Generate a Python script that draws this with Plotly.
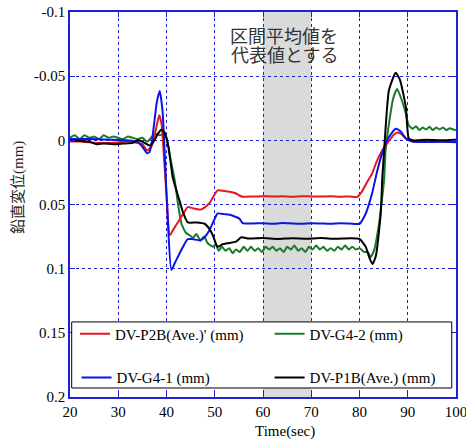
import plotly.graph_objects as go

# ---------------- data ----------------
red_t = [20, 22, 24, 26, 28, 30, 32, 34, 35, 36, 37, 38, 38.5, 39, 39.5, 40, 40.7, 41.5, 42.5, 43.5, 44.4,
         45.5, 47, 48, 48.9, 50, 50.6, 52, 53.1, 54.2, 55.1, 55.8, 58, 60, 62, 64, 66, 68, 70, 72, 74, 76,
         78, 79.5, 80.5, 81.5, 82.6, 83.5, 84.7, 86, 87, 87.8, 88.6, 89.6, 91, 93, 95, 97, 100]
red_y = [0.001, 0.001, 0.0015, 0.002, 0.002, 0.0015, 0.001, 0.002, 0.003, 0.008, 0.004, -0.012, -0.0195,
         -0.012, 0.015, 0.042, 0.074, 0.069, 0.063, 0.057, 0.052, 0.053, 0.054, 0.052, 0.049, 0.042, 0.039,
         0.0395, 0.040, 0.041, 0.043, 0.044, 0.0437, 0.0435, 0.0438, 0.0436, 0.044, 0.0435, 0.0437, 0.0438,
         0.0436, 0.044, 0.0437, 0.0442, 0.040, 0.033, 0.026, 0.017, 0.008, 0.001, -0.004, -0.006, -0.005,
         -0.0015, 0.001, 0.001, 0.0005, 0.001, 0.001]

green_t = [20, 21, 22, 23, 24, 25, 26, 27, 28, 29, 30, 31, 32, 33, 34, 35, 36, 37, 37.8, 38.6, 39.4, 40,
           40.7, 41.7, 42.4, 43.1, 44, 44.8, 45.5, 46.2, 47, 47.8, 48.5, 49.6, 50.2, 50.8, 51.5, 52.2, 53,
           53.7, 54.4, 55.2, 56, 56.8, 57.5, 58.3, 59, 59.8, 60.5, 61.3, 62, 62.8, 63.5, 64.3, 65, 65.8,
           66.5, 67.3, 68, 68.8, 69.5, 70.3, 71, 71.8, 72.5, 73.3, 74, 74.8, 75.5, 76.3, 77, 77.8, 78.5,
           79.3, 80, 81, 81.7, 82.3, 83, 84.05, 84.6, 85.1, 85.4, 86.3, 87, 87.8, 88.6, 89.6, 90.2, 91,
           91.7, 92.4, 93.1, 93.8, 94.5, 95.2, 95.9, 96.6, 97.3, 98, 98.7, 99.4, 100]
green_y = [-0.002, -0.004, -0.001, -0.004, -0.002, -0.003, -0.001, -0.004, -0.002, -0.003, -0.002,
           -0.001, -0.003, -0.002, -0.001, -0.002, 0.001, -0.003, -0.005, -0.004, -0.005, -0.002,
           0.012, 0.031, 0.050, 0.065, 0.072, 0.074, 0.076, 0.073, 0.078, 0.075, 0.080, 0.083, 0.081,
           0.086, 0.083, 0.086, 0.084, 0.088, 0.085, 0.087, 0.083, 0.086, 0.083, 0.086, 0.084, 0.087,
           0.083, 0.085, 0.083, 0.086, 0.084, 0.087, 0.083, 0.085, 0.082, 0.086, 0.084, 0.087, 0.083,
           0.085, 0.082, 0.085, 0.083, 0.086, 0.084, 0.086, 0.083, 0.085, 0.082, 0.085, 0.083, 0.085,
           0.084, 0.087, 0.087, 0.091, 0.086, 0.065, 0.048, 0.031, 0.008, -0.018, -0.033, -0.040,
           -0.033, -0.021, -0.0117, -0.009, -0.011, -0.008, -0.010, -0.0085, -0.0105, -0.008, -0.010,
           -0.0085, -0.010, -0.008, -0.0095, -0.0085, -0.008]

blue_t = [20, 24, 28, 32, 34, 35, 36, 36.5, 37, 37.5, 38, 38.6, 39.2, 39.8, 40.3, 41.0, 41.8, 43, 44.4,
          45.5, 47, 48, 48.9, 50, 50.6, 52, 53.1, 55.1, 55.8, 58, 60, 62, 64, 66, 68, 70, 72, 74, 76, 78,
          80, 81.3, 82.6, 83.6, 84.7, 86, 87.5, 88.5, 89.6, 91, 94, 97, 100]
blue_y = [-0.001, -0.001, -0.0005, 0.0, 0.001, 0.005, 0.010, 0.009, 0.0, -0.015, -0.030, -0.0385, -0.022,
          0.025, 0.065, 0.101, 0.095, 0.086, 0.077, 0.077, 0.078, 0.075, 0.070, 0.061, 0.057, 0.0575,
          0.058, 0.061, 0.0646, 0.0648, 0.0646, 0.065, 0.0645, 0.0648, 0.065, 0.0646, 0.0648, 0.065,
          0.0646, 0.0648, 0.065, 0.057, 0.0415, 0.025, 0.010, -0.002, -0.009, -0.007, -0.0015, 0.001,
          0.0013, 0.0012, 0.0015]

black_t = [20, 22, 24, 25.5, 27, 29, 31, 33, 34, 35, 36.5, 37.5, 38.2, 38.9, 39.6, 40.4, 41.3, 42.7, 43.5,
           44.4, 46.2, 47.9, 48.9, 49.6, 50.6, 51.6, 53, 54.4, 55.5, 57, 60, 63, 66, 69, 72, 75, 78, 80,
           81.3, 82.0, 82.7, 83.4, 84.4, 84.7, 85.1, 86.1, 87.5, 88.4, 89.6, 90.2, 91, 94, 97, 100]
black_y = [0.0, 0.0005, 0.001, 0.003, 0.0025, 0.003, 0.0025, 0.002, 0.0, 0.001, 0.004, 0.0, -0.005,
           -0.0083, -0.006, 0.005, 0.029, 0.047, 0.057, 0.064, 0.064, 0.065, 0.069, 0.074, 0.083, 0.081,
           0.080, 0.079, 0.0755, 0.0765, 0.0762, 0.0768, 0.0763, 0.0766, 0.0762, 0.0767, 0.0763, 0.0768,
           0.083, 0.091, 0.0964, 0.090, 0.057, 0.031, 0.008, -0.039, -0.0526, -0.047, -0.026, -0.0015,
           0.0, -0.0005, 0.0, -0.0005]

band_x = [60, 70]
y_ticks = [-0.1, -0.05, 0, 0.05, 0.1, 0.15, 0.2]
y_tick_text = ["-0.1", "-0.05", "0", "0.05", "0.1", "0.15", "0.2"]
x_ticks = [20, 30, 40, 50, 60, 70, 80, 90, 100]
note_lines = ["区間平均値を", "代表値とする"]
y_title = "鉛直変位(mm)"
x_title = "Time(sec)"

# ---------------- figure ----------------
SERIF = "Liberation Serif, Times New Roman, serif"
AXC = "#1f1fd6"

fig = go.Figure()

# name, t, y, colour, legend id, legend x (paper), legend y (paper)
traces = [
    ("DV-G4-2 (mm)", green_t, green_y, "#1b7a2a", "legend2", 0.517, 0.1636),
    ("DV-P2B(Ave.)' (mm)", red_t, red_y, "#e31a1c", "legend", 0.013, 0.1636),
    ("DV-G4-1 (mm)", blue_t, blue_y, "#0a14e6", "legend3", 0.017, 0.050),
    ("DV-P1B(Ave.) (mm)", black_t, black_y, "#000000", "legend4", 0.517, 0.050),
]
legend_cfg = {}
for name, tt, yy, col, lg, lx, ly in traces:
    fig.add_trace(go.Scatter(x=tt, y=yy, mode="lines", name=name, legend=lg,
                             line=dict(color=col, width=2, shape="spline", smoothing=0.5)))
    legend_cfg[lg] = dict(orientation="h", x=lx, y=ly, xanchor="left", yanchor="middle",
                          bgcolor="rgba(0,0,0,0)", borderwidth=0,
                          font=dict(family=SERIF, size=15, color="black"))

fig.add_shape(type="rect", xref="x", yref="paper", x0=band_x[0], x1=band_x[1], y0=0, y1=1,
              fillcolor="#d9dbdb", line=dict(width=0), layer="below")

# legend box
fig.add_shape(type="rect", xref="paper", yref="paper", x0=0.0044, x1=0.989, y0=0.0234, y1=0.195,
              fillcolor="white", line=dict(color="black", width=1), layer="above")

for txt, yv in zip(note_lines, [-0.0822, -0.0675]):
    fig.add_annotation(x=64.4, y=yv, xref="x", yref="y", text=txt, showarrow=False,
                       xanchor="center", yanchor="middle",
                       font=dict(family="Noto Sans CJK JP", size=18, color="#333333"))

fig.add_annotation(x=-0.132, y=0.543, xref="paper", yref="paper", text=y_title, textangle=-90,
                   xanchor="center", yanchor="middle", showarrow=False,
                   font=dict(family="Liberation Serif, Noto Sans CJK JP", size=15, color="#222222"))
fig.add_annotation(x=64.5, y=-0.0896, xref="x", yref="paper", text=x_title,
                   xanchor="center", yanchor="middle", showarrow=False,
                   font=dict(family=SERIF, size=15, color="black"))

fig.update_layout(
    width=466, height=445,
    margin=dict(l=70, r=10, t=12, b=48),
    paper_bgcolor="white", plot_bgcolor="white",
    font=dict(family=SERIF, size=15, color="black"),
    showlegend=True,
    **legend_cfg,
)

fig.update_xaxes(range=[20, 100], tickvals=x_ticks, showgrid=True, gridcolor=AXC, griddash="dot",
                 gridwidth=1, showline=True, linecolor=AXC, linewidth=1.5, mirror="allticks",
                 ticks="inside", ticklen=5, tickcolor=AXC, zeroline=False, ticklabeloverflow="allow",
                 automargin=False, tickfont=dict(family=SERIF, size=15))
fig.update_yaxes(range=[0.2, -0.1], tickvals=y_ticks, ticktext=y_tick_text, showgrid=True,
                 gridcolor=AXC, griddash="dot", gridwidth=1, showline=True, linecolor=AXC,
                 linewidth=1.5, mirror="allticks", ticks="inside", ticklen=5, tickcolor=AXC,
                 zeroline=False, automargin=False, tickfont=dict(family=SERIF, size=15))

fig.write_html("out.html")
